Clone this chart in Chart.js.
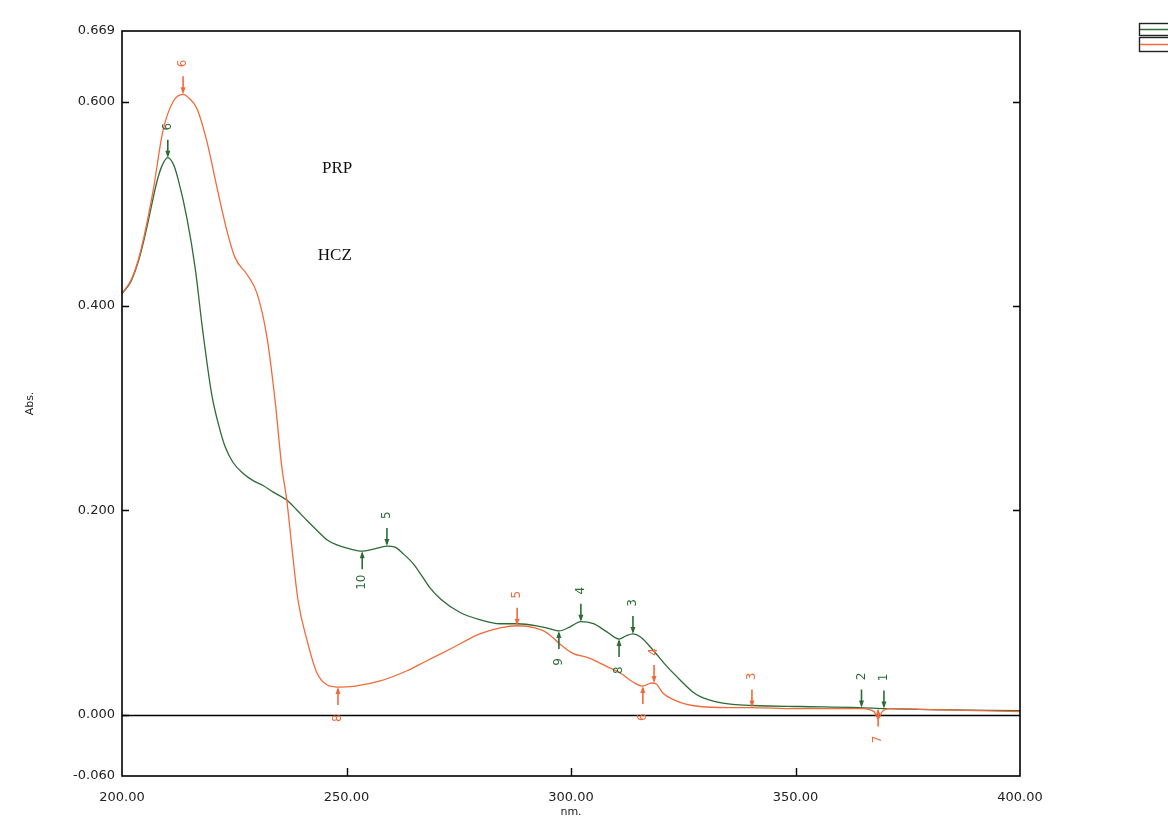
<!DOCTYPE html>
<html>
<head>
<meta charset="utf-8">
<script src="https://cdn.jsdelivr.net/npm/chart.js@4/dist/chart.umd.min.js"></script>
<style>
html,body{margin:0;padding:0;background:#fff;}
#wrap{width:1168px;height:822px;position:relative;}
</style>
</head>
<body>
<div id="wrap"><canvas id="c" width="1168" height="822"></canvas></div>
<script>
// ---- data ----
const greenWl  = [200,202,204,205.6,207.8,209,210.2,211.5,212.5,214.5,216.3,218,220,221.8,223,224.7,227,229.2,231.5,233.6,236.7,239,241.2,243.5,245.7,248,250.1,253.5,256,259,260.8,262.5,264.8,266.6,268.6,271,275.3,279.7,284.2,288,292.4,295.3,297.3,299.8,302.2,305,308,310.7,312.2,313.8,315.5,318.3,321.4,324.3,327.2,328.7,332.9,336,340.5,351,364,370,380,400];
const greenAbs = [0.412,0.424,0.449,0.478,0.522,0.538,0.545,0.538,0.524,0.485,0.437,0.375,0.313,0.279,0.262,0.247,0.236,0.229,0.224,0.218,0.21,0.2,0.19,0.18,0.171,0.166,0.163,0.160,0.162,0.165,0.164,0.158,0.148,0.137,0.124,0.113,0.10,0.093,0.089,0.089,0.087,0.084,0.082,0.086,0.091,0.089,0.081,0.074,0.077,0.079,0.076,0.063,0.047,0.034,0.022,0.018,0.012,0.010,0.009,0.008,0.007,0.006,0.005,0.004];

const orangeWl  = [200,202,204,206.9,209.1,211.4,213.6,215,216.7,218.9,221.2,223.4,225.2,227.8,230.1,232.3,234.1,235.6,236.7,237.9,239.2,241.2,243.4,245.7,248.1,252,257.5,263.5,268,273,279.7,284.2,288,292,294.7,297.3,300.4,303.6,305.8,308,310.9,313.8,316,318,319,320.5,322.7,325.8,328.7,335,340.3,350,364.7,367.5,368.4,369.3,371,380,400];
const orangeAbs = [0.412,0.425,0.451,0.512,0.571,0.600,0.607,0.603,0.593,0.561,0.515,0.473,0.447,0.431,0.412,0.369,0.307,0.242,0.21,0.161,0.112,0.073,0.041,0.029,0.027,0.028,0.033,0.043,0.053,0.064,0.079,0.085,0.087,0.085,0.080,0.07,0.06,0.056,0.052,0.047,0.041,0.032,0.028,0.031,0.030,0.021,0.015,0.010,0.008,0.007,0.007,0.006,0.006,0.003,-0.004,0.003,0.006,0.005,0.003];

// peak / valley markers: wavelength, absorbance, label, direction (1 = peak, arrow from above; -1 = valley)
const greenMarkWl   = [210.2, 259.0, 302.2, 313.8, 364.7, 369.7, 253.5, 297.3, 310.7];
const greenMarkAbs  = [0.545, 0.165, 0.091, 0.079, 0.007, 0.006, 0.160, 0.082, 0.074];
const greenMarkLbl  = ["6","5","4","3","2","1","10","9","8"];
const greenMarkDir  = [1,1,1,1,1,1,-1,-1,-1];

const orangeMarkWl  = [213.6, 288.0, 318.5, 340.3, 248.1, 316.0, 368.4];
const orangeMarkAbs = [0.607, 0.087, 0.031, 0.007, 0.027, 0.028, 0.006];
const orangeMarkLbl = ["6","5","4","3","8","6","7"];
const orangeMarkDir = [1,1,1,1,-1,-1,-1];

const yTickValues = [-0.060, 0.000, 0.200, 0.400, 0.600, 0.669];
const xTickValues = [200, 250, 300, 350, 400];
const notes = [{text:"PRP", x:247.9, y:0.534}, {text:"HCZ", x:247.4, y:0.449}];

const GREEN = '#2d6b35';
const ORANGE = '#f26a3a';

function pts(xs, ys){ return xs.map((x,i)=>({x:x, y:ys[i]})); }

const decor = {
  id:'decor',
  beforeDatasetsDraw(chart){
    const {ctx, chartArea:a, scales:{x,y}} = chart;
    ctx.save();
    ctx.strokeStyle='#000'; ctx.lineWidth=1.6;
    const y0 = Math.round(y.getPixelForValue(0))+0.5;
    ctx.beginPath(); ctx.moveTo(a.left,y0); ctx.lineTo(a.right,y0); ctx.stroke();
    ctx.restore();
  },
  afterDatasetsDraw(chart){
    const {ctx, chartArea:a, scales:{x,y}} = chart;
    ctx.save();
    function drawMarks(wl, ab, lbl, dir, col){
      for(let i=0;i<wl.length;i++){
        const px = x.getPixelForValue(wl[i]);
        const py = y.getPixelForValue(ab[i]);
        const d = dir[i];
        ctx.strokeStyle=col; ctx.fillStyle=col; ctx.lineWidth=1.6;
        const tail = py - d*18;
        ctx.beginPath(); ctx.moveTo(px, tail); ctx.lineTo(px, py - d*2); ctx.stroke();
        ctx.beginPath();
        ctx.moveTo(px, py); ctx.lineTo(px-2.5, py - d*7); ctx.lineTo(px+2.5, py - d*7); ctx.closePath(); ctx.fill();
        ctx.save();
        ctx.translate(px, py - d*31);
        ctx.rotate(-Math.PI/2);
        ctx.font = '12px "DejaVu Sans"';
        ctx.textAlign='center'; ctx.textBaseline='middle';
        ctx.fillText(lbl[i], 0, 0);
        ctx.restore();
      }
    }
    drawMarks(greenMarkWl, greenMarkAbs, greenMarkLbl, greenMarkDir, GREEN);
    drawMarks(orangeMarkWl, orangeMarkAbs, orangeMarkLbl, orangeMarkDir, ORANGE);

    ctx.strokeStyle='#000'; ctx.lineWidth=1.6;
    ctx.strokeRect(a.left, a.top, a.right-a.left, a.bottom-a.top);
    ctx.lineWidth=1.4;
    ctx.beginPath();
    yTickValues.forEach(v=>{
      if(v===yTickValues[0]||v===yTickValues[yTickValues.length-1]) return;
      const py = Math.round(y.getPixelForValue(v))+0.5;
      ctx.moveTo(a.left, py); ctx.lineTo(a.left+7, py);
      if(v>0){ ctx.moveTo(a.right, py); ctx.lineTo(a.right-7, py); }
    });
    xTickValues.forEach((v,i)=>{
      if(i===0||i===xTickValues.length-1) return;
      const px = Math.round(x.getPixelForValue(v))+0.5;
      ctx.moveTo(px, a.bottom); ctx.lineTo(px, a.bottom-8);
    });
    ctx.stroke();

    ctx.fillStyle='#111';
    ctx.font='17px "Liberation Serif"';
    ctx.textAlign='center'; ctx.textBaseline='middle';
    notes.forEach(n=>ctx.fillText(n.text, x.getPixelForValue(n.x), y.getPixelForValue(n.y)));

    ctx.font='11px "DejaVu Sans"';
    ctx.fillStyle='#222';
    ctx.fillText('nm.', x.getPixelForValue(300), a.bottom+36);
    ctx.save();
    ctx.translate(30, (a.top+a.bottom)/2);
    ctx.rotate(-Math.PI/2);
    ctx.fillText('Abs.', 0, 0);
    ctx.restore();

    ctx.lineWidth=1.4; ctx.strokeStyle='#222';
    ctx.strokeRect(1139.5, 23.5, 40, 12);
    ctx.strokeRect(1139.5, 37.5, 40, 14);
    ctx.strokeStyle=GREEN; ctx.lineWidth=1.5;
    ctx.beginPath(); ctx.moveTo(1140, 29.5); ctx.lineTo(1168, 29.5); ctx.stroke();
    ctx.strokeStyle=ORANGE;
    ctx.beginPath(); ctx.moveTo(1140, 44.5); ctx.lineTo(1168, 44.5); ctx.stroke();
    ctx.restore();
  }
};

new Chart(document.getElementById('c'), {
  type:'line',
  data:{
    datasets:[
      {label:'PRP', data:pts(greenWl, greenAbs), borderColor:GREEN, borderWidth:1.3, pointRadius:0, cubicInterpolationMode:'monotone', fill:false, order:1},
      {label:'HCZ', data:pts(orangeWl, orangeAbs), borderColor:ORANGE, borderWidth:1.3, pointRadius:0, cubicInterpolationMode:'monotone', fill:false, order:0}
    ]
  },
  options:{
    responsive:false,
    animation:false,
    layout:{padding:{top:31, right:148, left:0, bottom:0}},
    plugins:{legend:{display:false}, tooltip:{enabled:false}},
    scales:{
      x:{
        type:'linear', min:200, max:400,
        afterBuildTicks(s){ s.ticks = xTickValues.map(v=>({value:v})); },
        afterFit(s){ s.height = 46; },
        grid:{display:false, drawTicks:false},
        border:{display:false},
        ticks:{padding:14, color:'#222', font:{family:'DejaVu Sans', size:13}, maxRotation:0, autoSkip:false,
          callback:(v)=>Number(v).toFixed(2)}
      },
      y:{
        type:'linear', min:-0.060, max:0.669,
        afterBuildTicks(s){ s.ticks = yTickValues.map(v=>({value:v})); },
        afterFit(s){ s.width = 122; },
        grid:{display:false, drawTicks:false},
        border:{display:false},
        ticks:{padding:7, color:'#222', font:{family:'DejaVu Sans', size:13}, autoSkip:false,
          callback:(v)=>Number(v).toFixed(3)}
      }
    }
  },
  plugins:[decor]
});
</script>
</body>
</html>
